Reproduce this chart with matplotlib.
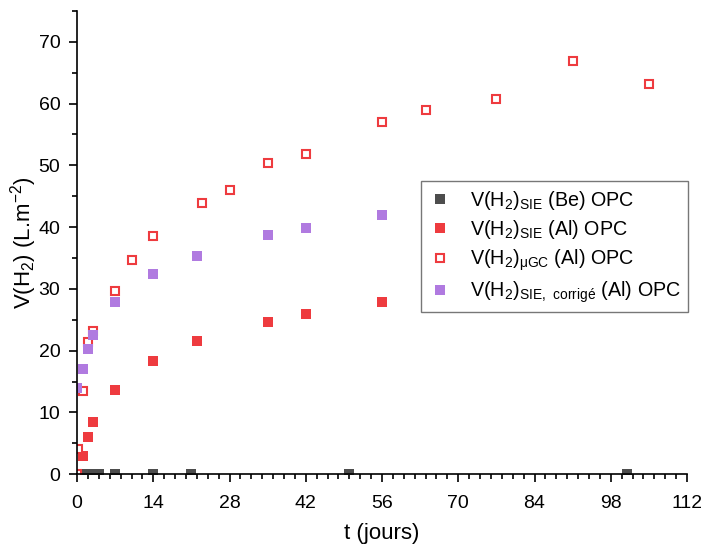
import matplotlib
matplotlib.use('Agg')
import matplotlib.pyplot as plt
from matplotlib.ticker import MultipleLocator

plt.rcParams['font.family'] = ['Liberation Sans', 'DejaVu Sans']
plt.rcParams['mathtext.default'] = 'regular'

# Données
t_be = [1, 2, 3, 4, 7, 14, 21, 50, 101]
v_be = [0, 0, 0, 0, 0, 0, 0, 0, 0]

t_sie = [1, 2, 3, 7, 14, 22, 35, 42, 56]
v_sie = [3.0, 6.1, 8.4, 13.7, 18.3, 21.6, 24.6, 25.9, 27.9]

t_gc = [0, 0.25, 1, 2, 3, 7, 10, 14, 23, 28, 35, 42, 56, 64, 77, 91, 105]
v_gc = [0, 4.0, 13.5, 21.4, 23.2, 29.6, 34.6, 38.5, 43.9, 46.0, 50.3, 51.9, 57.0, 58.9, 60.8, 66.9, 63.1]

t_corr = [0, 1, 2, 3, 7, 14, 22, 35, 42, 56]
v_corr = [13.9, 17.0, 20.2, 22.6, 27.8, 32.4, 35.4, 38.7, 39.9, 41.9]

fig = plt.figure(figsize=(7.01, 5.46), dpi=100)
ax = fig.add_axes([0.11, 0.1315, 0.87, 0.8485])

ax.plot(t_be, v_be, 's', color='#4d4d4d', ms=7, mew=0,
        label=r'V(H$_2$)$_{SIE}$ (Be) OPC')
ax.plot(t_sie, v_sie, 's', color='#ee3b3f', ms=7, mew=0,
        label=r'V(H$_2$)$_{SIE}$ (Al) OPC')
ax.plot(t_gc, v_gc, 's', mfc='white', mec='#ee3b3f', ms=6.3, mew=1.5,
        label=r'V(H$_2$)$_{μGC}$ (Al) OPC')
ax.plot(t_corr, v_corr, 's', color='#b07ae0', ms=7, mew=0,
        label=r'V(H$_2$)$_{SIE,\ corrigé}$ (Al) OPC')

ax.set_xlim(0, 112)
ax.set_ylim(0, 75)
ax.xaxis.set_major_locator(MultipleLocator(14))
ax.xaxis.set_minor_locator(MultipleLocator(2))
ax.yaxis.set_major_locator(MultipleLocator(10))
ax.yaxis.set_minor_locator(MultipleLocator(5))

ax.spines['top'].set_visible(False)
ax.spines['right'].set_visible(False)
for s in ['left', 'bottom']:
    ax.spines[s].set_linewidth(1.2)
ax.tick_params(which='major', length=6, width=1.2, labelsize=14, direction='out')
ax.tick_params(axis='x', which='major', pad=9)
ax.tick_params(axis='y', which='major', pad=6)
ax.tick_params(which='minor', length=3.5, width=1.2, direction='out')

ax.set_xlabel('t (jours)', fontsize=16, labelpad=8)
ax.set_ylabel(r'V(H$_2$) (L.m$^{-2}$)', fontsize=16, labelpad=0)

leg = ax.legend(loc='upper left', bbox_to_anchor=(0.564, 0.632), fontsize=14.2,
                frameon=True, fancybox=False, edgecolor='#555555',
                handlelength=1.2, handletextpad=0.9, borderpad=0.38,
                labelspacing=0.32, borderaxespad=0)
leg.get_frame().set_linewidth(1.0)

plt.savefig('out.png', dpi=100)
